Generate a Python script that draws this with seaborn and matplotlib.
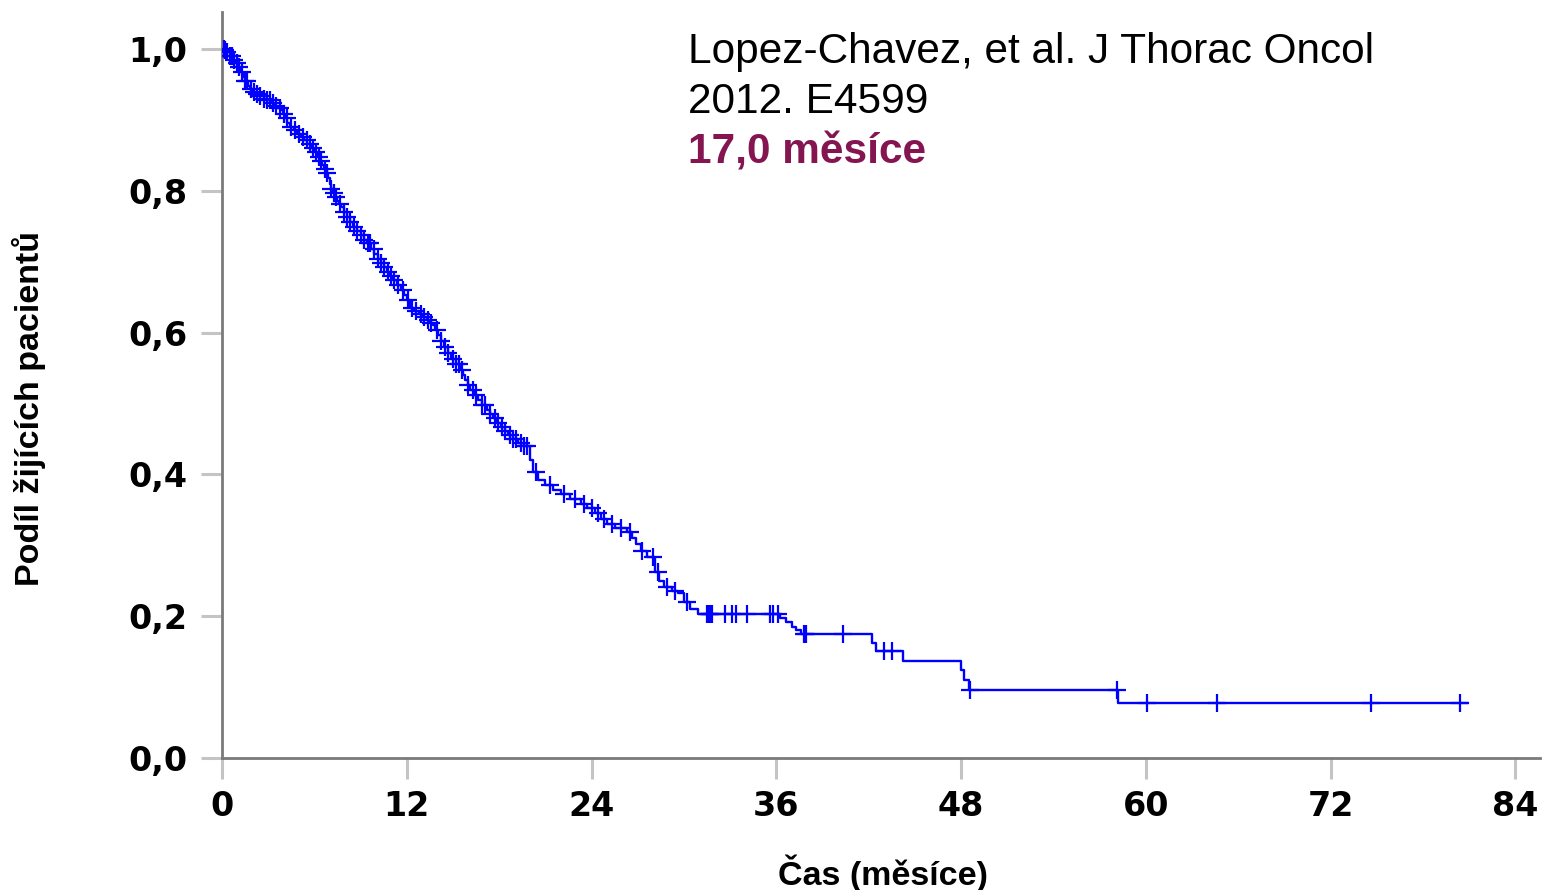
import numpy as np
import pandas as pd
import matplotlib
matplotlib.use("Agg")
import matplotlib.pyplot as plt
import seaborn as sns

# Kaplan-Meier overall survival: step times (months) and survival after each step
step_time = [0.0, 0.15, 0.3, 0.5, 0.7, 0.85, 1.0, 1.2, 1.36, 1.5, 1.7, 1.85, 2.0, 2.25,
             2.5, 2.7, 2.9, 3.15, 3.4, 3.6, 3.8, 3.95, 4.1, 4.25, 4.4, 4.65, 4.9, 5.1,
             5.3, 5.55, 5.8, 6.0, 6.2, 6.35, 6.5, 6.65, 6.8, 6.9, 7.0, 7.1, 7.2, 7.35,
             7.5, 7.6, 7.7, 7.9, 8.1, 8.3, 8.5, 8.75, 9.0, 9.2, 9.4, 9.65, 9.9, 10.1,
             10.3, 10.5, 10.7, 10.9, 11.1, 11.35, 11.6, 11.8, 12.0, 12.2, 12.5, 12.8,
             13.05, 13.3, 13.5, 13.7, 13.85, 14.0, 14.2, 14.4, 14.65, 14.9, 15.2, 15.5,
             15.65, 15.8, 15.95, 16.1, 16.35, 16.6, 16.9, 17.2, 17.4, 17.6, 17.85, 18.1,
             18.35, 18.6, 18.9, 19.2, 19.6, 20.0, 20.2, 20.5, 21.0, 21.5, 22.0, 22.6,
             23.3, 23.7, 24.2, 24.6, 25.0, 25.5, 26.3, 26.6, 26.9, 27.2, 27.6, 28.1,
             28.4, 28.7, 29.2, 29.6, 30.0, 30.4, 30.9, 36.25, 36.6, 37.0, 37.3, 37.6,
             42.2, 42.5, 44.2, 48.0, 48.2, 48.5, 58.2]
step_surv = [1.0, 0.998, 0.995, 0.99, 0.985, 0.98, 0.975, 0.967, 0.96, 0.954, 0.948,
             0.943, 0.939, 0.936, 0.933, 0.93, 0.928, 0.924, 0.92, 0.917, 0.914, 0.908,
             0.902, 0.896, 0.89, 0.885, 0.88, 0.876, 0.872, 0.866, 0.86, 0.854, 0.848,
             0.842, 0.836, 0.83, 0.825, 0.818, 0.81, 0.803, 0.797, 0.791, 0.785, 0.781,
             0.777, 0.77, 0.763, 0.756, 0.749, 0.743, 0.737, 0.731, 0.726, 0.718, 0.711,
             0.704, 0.698, 0.692, 0.686, 0.68, 0.674, 0.667, 0.66, 0.653, 0.646, 0.634,
             0.63, 0.626, 0.622, 0.618, 0.614, 0.611, 0.603, 0.596, 0.588, 0.58, 0.571,
             0.563, 0.555, 0.547, 0.54, 0.533, 0.526, 0.519, 0.512, 0.505, 0.498, 0.491,
             0.485, 0.479, 0.473, 0.467, 0.461, 0.455, 0.45, 0.444, 0.44, 0.42, 0.403,
             0.392, 0.385, 0.378, 0.372, 0.365, 0.358, 0.352, 0.345, 0.337, 0.33, 0.324,
             0.318, 0.31, 0.302, 0.292, 0.283, 0.262, 0.25, 0.241, 0.236, 0.232, 0.22,
             0.21, 0.203, 0.197, 0.192, 0.185, 0.18, 0.175, 0.162, 0.151, 0.137, 0.124,
             0.11, 0.096, 0.0776]
last_followup = 80.9

# Censored observations (months)
censor_time = [0.1, 0.2, 0.35, 0.5, 0.65, 0.8, 0.95, 1.1, 1.3, 1.5, 1.65, 1.9, 2.1,
               2.3, 2.5, 2.7, 2.9, 3.1, 3.3, 3.5, 3.75, 4.0, 4.2, 4.5, 4.75, 5.0, 5.25,
               5.5, 5.7, 5.9, 6.1, 6.3, 6.45, 6.7, 6.85, 7.1, 7.25, 7.4, 7.65, 7.9, 8.1,
               8.3, 8.55, 8.8, 9.05, 9.2, 9.45, 9.6, 9.85, 10.1, 10.3, 10.5, 10.8, 11.0,
               11.2, 11.4, 11.75, 12.1, 12.35, 12.6, 12.9, 13.1, 13.4, 13.6, 13.95, 14.2,
               14.5, 14.7, 15.0, 15.2, 15.4, 15.6, 16.0, 16.3, 16.5, 16.9, 17.1, 17.4,
               17.7, 17.9, 18.2, 18.4, 18.7, 18.9, 19.1, 19.4, 19.6, 19.8, 20.4, 21.3,
               22.2, 22.9, 23.5, 24.0, 24.4, 24.8, 25.3, 25.9, 26.5, 27.3, 28.0, 28.3,
               28.9, 29.4, 30.2, 31.5, 31.6, 31.7, 31.8, 32.7, 33.1, 33.4, 34.1, 35.6,
               35.8, 36.1, 37.8, 37.9, 40.3, 43.0, 43.5, 48.6, 58.1, 60.1, 64.6, 74.6,
               80.4]

x_ticks = [0, 12, 24, 36, 48, 60, 72, 84]
y_ticks = [0.0, 0.2, 0.4, 0.6, 0.8, 1.0]
y_tick_labels = ["0,0", "0,2", "0,4", "0,6", "0,8", "1,0"]

x_label = "Čas (měsíce)"
y_label = "Podíl žijících pacientů"
source_lines = ["Lopez-Chavez, et al. J Thorac Oncol", "2012. E4599"]
median_text = "17,0 měsíce"

sns.set_style("white", {"xtick.bottom": True, "ytick.left": True,
                        "text.color": "black", "axes.labelcolor": "black"})
plt.rcParams["font.family"] = ["Liberation Sans", "DejaVu Sans"]

curve = pd.DataFrame({
    "t": step_time + [last_followup],
    "s": step_surv + [step_surv[-1]],
})
st = np.array(step_time)
ss = np.array(step_surv)
ct = np.array(censor_time)
cens = pd.DataFrame({"t": ct, "s": ss[np.searchsorted(st, ct, side="right") - 1]})

W, H = 1544, 890
fig = plt.figure(figsize=(W / 100, H / 100), dpi=100)
ax = fig.add_axes([222 / W, 1 - 758 / H, (1540 - 222) / W, (758 - 12) / H])

blue = "#0000ff"
sns.lineplot(data=curve, x="t", y="s", ax=ax, color=blue, linewidth=1.7,
             drawstyle="steps-post", estimator=None, sort=False)
sns.scatterplot(data=cens, x="t", y="s", ax=ax, marker="+", s=160, color=blue,
                linewidth=1.6, zorder=3)

ax.set_xlim(0, 85.6)
ax.set_ylim(0, 1.052)
ax.set_xticks(x_ticks)
ax.set_xticklabels([str(v) for v in x_ticks])
ax.set_yticks(y_ticks)
ax.set_yticklabels(y_tick_labels)

sns.despine(ax=ax)
for side in ("left", "bottom"):
    ax.spines[side].set_color("#7a7a7a")
    ax.spines[side].set_linewidth(2.0)

ax.tick_params(axis="both", which="major", direction="out", length=15,
               width=2.2, color="#c4c4c4", labelcolor="black",
               bottom=True, left=True)
ax.tick_params(axis="x", pad=8)
ax.tick_params(axis="y", pad=10)
for lab in ax.get_xticklabels() + ax.get_yticklabels():
    lab.set_family("DejaVu Sans")
    lab.set_fontweight("bold")
    lab.set_fontsize(24)

ax.set_xlabel(x_label, fontsize=24.5, fontweight="bold", color="black")
ax.set_ylabel(y_label, fontsize=24.5, fontweight="bold", color="black")
ax.xaxis.set_label_coords((883 - 222) / 1318, (758 - 855) / 746)
ax.yaxis.set_label_coords((46 - 222) / 1318, (758 - 409) / 746)

fx = 688 / W
fig.text(fx, 1 - 63 / H, source_lines[0], fontsize=30.5, va="baseline", ha="left",
         color="black")
fig.text(fx, 1 - 113 / H, source_lines[1], fontsize=30.5, va="baseline", ha="left",
         color="black")
fig.text(fx, 1 - 163 / H, median_text, fontsize=30.5, fontweight="bold",
         color="#851550", va="baseline", ha="left")

fig.savefig("out.png", dpi=100, facecolor="white")
